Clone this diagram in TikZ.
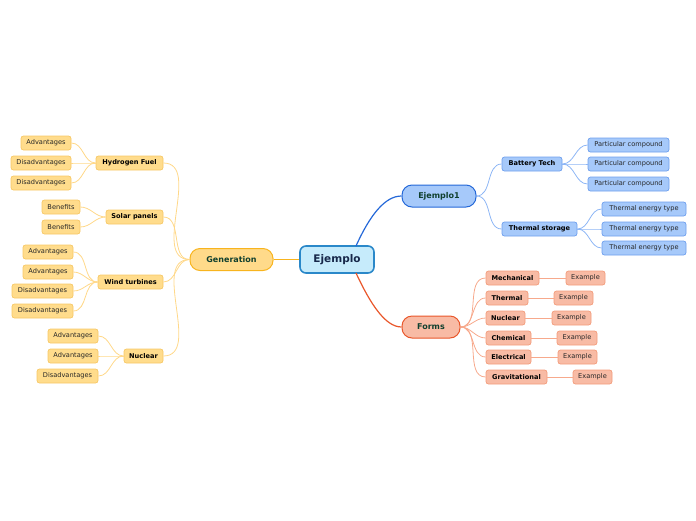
\documentclass[tikz,border=0pt]{standalone}
\usepackage{fontspec}
\setmainfont{DejaVu Sans}
\definecolor{oFill}{HTML}{FFDC8C}
\definecolor{oDraw}{HTML}{F7C866}
\definecolor{oLine}{HTML}{FFD889}
\definecolor{gFill}{HTML}{FFDA8A}
\definecolor{gDraw}{HTML}{F8B41E}
\definecolor{cFill}{HTML}{C6EBFB}
\definecolor{cDraw}{HTML}{2A88C9}
\definecolor{bFill}{HTML}{A6C9FA}
\definecolor{bDraw}{HTML}{2468D8}
\definecolor{bLeafDraw}{HTML}{6E9FEE}
\definecolor{bLine}{HTML}{8DB6F5}
\definecolor{rFill}{HTML}{F8BBA5}
\definecolor{rDraw}{HTML}{E9572B}
\definecolor{rLeafDraw}{HTML}{F39C7C}
\definecolor{rLine}{HTML}{F7A98C}
\definecolor{dkGreen}{HTML}{10402F}
\definecolor{dkNavy}{HTML}{17284A}
\tikzset{
  box/.style={rounded corners=2.5pt, inner sep=0pt, minimum height=14pt, font=\fontsize{6.6}{7}\selectfont, text=black!85},
  oleaf/.style={box, fill=oFill, draw=oDraw, line width=0.7pt},
  obold/.style={oleaf, font=\fontsize{6.6}{7}\selectfont\bfseries, text=black},
  bleaf/.style={box, fill=bFill, draw=bLeafDraw, line width=0.7pt},
  bbold/.style={bleaf, font=\fontsize{6.6}{7}\selectfont\bfseries, text=black},
  rleaf/.style={box, fill=rFill, draw=rLeafDraw, line width=0.7pt},
  rbold/.style={rleaf, font=\fontsize{6.6}{7}\selectfont\bfseries, text=black},
  main/.style={rounded corners=10pt, inner sep=0pt, minimum height=22pt, font=\fontsize{8}{9}\selectfont\bfseries, text=dkGreen, line width=1pt},
  oconn/.style={draw=oLine, line width=0.8pt},
  bconn/.style={draw=bLine, line width=0.8pt},
  rconn/.style={draw=rLine, line width=0.8pt},
}
\begin{document}
\begin{tikzpicture}[x=1pt,y=-1pt]
\useasboundingbox (0,0) rectangle (696,520);
% central
\node[rounded corners=6pt, fill=cFill, draw=cDraw, line width=1.6pt, minimum width=74pt, minimum height=27pt, inner sep=0pt, font=\fontsize{10.5}{12}\selectfont\bfseries, text=dkNavy] (c) at (337,259.5) {Ejemplo};
% main branches
\node[main, fill=gFill, draw=gDraw, minimum width=83pt] (gen) at (231.5,259.5) {Generation};
\node[main, fill=bFill, draw=bDraw, minimum width=74pt] (e1) at (439,196) {Ejemplo1};
\node[main, fill=rFill, draw=rDraw, minimum width=58pt] (fo) at (431,327) {Forms};
\draw[draw=gDraw, line width=1.2pt] (c.west) -- (gen.east);
\draw[draw=bDraw, line width=1.2pt] (356,246) .. controls (370,215) and (385,196) .. (e1.west);
\draw[draw=rDraw, line width=1.2pt] (356,273) .. controls (370,303) and (385,327) .. (fo.west);
% Generation children
\node[obold, minimum width=67pt] (hf) at (129.5,163) {Hydrogen Fuel};
\node[obold, minimum width=57pt] (sp) at (134.5,217) {Solar panels};
\node[obold, minimum width=65pt] (wt) at (130.5,282) {Wind turbines};
\node[obold, minimum width=39pt] (nu) at (143.5,356) {Nuclear};
\foreach \n in {hf,sp,wt,nu} \draw[oconn] (gen.west) to[out=180,in=0] (\n.east);
% Hydrogen leaves
\node[oleaf, minimum width=50pt] (hf1) at (46,143) {Advantages};
\node[oleaf, minimum width=60pt] (hf2) at (41,163) {Disadvantages};
\node[oleaf, minimum width=60pt] (hf3) at (41,183) {Disadvantages};
% Solar
\node[oleaf, minimum width=38pt] (sp1) at (61,207) {Benefits};
\node[oleaf, minimum width=38pt] (sp2) at (61,227) {Benefits};
% Wind
\node[oleaf, minimum width=50pt] (wt1) at (48,252) {Advantages};
\node[oleaf, minimum width=50pt] (wt2) at (48,272) {Advantages};
\node[oleaf, minimum width=61pt] (wt3) at (42.5,291) {Disadvantages};
\node[oleaf, minimum width=61pt] (wt4) at (42.5,311) {Disadvantages};
% Nuclear
\node[oleaf, minimum width=50pt] (nu1) at (73,336) {Advantages};
\node[oleaf, minimum width=50pt] (nu2) at (73,356) {Advantages};
\node[oleaf, minimum width=61pt] (nu3) at (67.5,376) {Disadvantages};
\foreach \p/\c in {hf/hf1,hf/hf2,hf/hf3,sp/sp1,sp/sp2,wt/wt1,wt/wt2,wt/wt3,wt/wt4,nu/nu1,nu/nu2,nu/nu3}
  \draw[oconn] (\p.west) to[out=180,in=0] (\c.east);
% Ejemplo1 children
\node[bbold, minimum width=60pt] (bt) at (532,164) {Battery Tech};
\node[bbold, minimum width=75pt] (ts) at (539.5,229) {Thermal storage};
\foreach \n in {bt,ts} \draw[bconn] (e1.east) to[out=0,in=180] (\n.west);
\node[bleaf, minimum width=81pt] (pc1) at (628.5,145) {Particular compound};
\node[bleaf, minimum width=81pt] (pc2) at (628.5,164) {Particular compound};
\node[bleaf, minimum width=81pt] (pc3) at (628.5,184) {Particular compound};
\node[bleaf, minimum width=84pt] (te1) at (644,209) {Thermal energy type};
\node[bleaf, minimum width=84pt] (te2) at (644,229) {Thermal energy type};
\node[bleaf, minimum width=84pt] (te3) at (644,248) {Thermal energy type};
\foreach \p/\c in {bt/pc1,bt/pc2,bt/pc3,ts/te1,ts/te2,ts/te3}
  \draw[bconn] (\p.east) to[out=0,in=180] (\c.west);
% Forms children
\node[rbold, minimum width=53pt] (me) at (512.5,278) {Mechanical};
\node[rbold, minimum width=42pt] (th) at (507,298) {Thermal};
\node[rbold, minimum width=39pt] (nc) at (505.5,318) {Nuclear};
\node[rbold, minimum width=45pt] (ch) at (508.5,338) {Chemical};
\node[rbold, minimum width=45pt] (el) at (508.5,357) {Electrical};
\node[rbold, minimum width=61pt] (gr) at (516.5,377) {Gravitational};
\foreach \n in {me,th,nc,ch,el,gr} \draw[rconn] (fo.east) to[out=0,in=180] (\n.west);
\node[rleaf, minimum width=39pt] (x1) at (585.5,278) {Example};
\node[rleaf, minimum width=39pt] (x2) at (573.5,298) {Example};
\node[rleaf, minimum width=39pt] (x3) at (571.5,318) {Example};
\node[rleaf, minimum width=40pt] (x4) at (577,338) {Example};
\node[rleaf, minimum width=39pt] (x5) at (577.5,357) {Example};
\node[rleaf, minimum width=39pt] (x6) at (592.5,377) {Example};
\foreach \p/\c in {me/x1,th/x2,nc/x3,ch/x4,el/x5,gr/x6}
  \draw[rconn] (\p.east) -- (\c.west);
\end{tikzpicture}
\end{document}
